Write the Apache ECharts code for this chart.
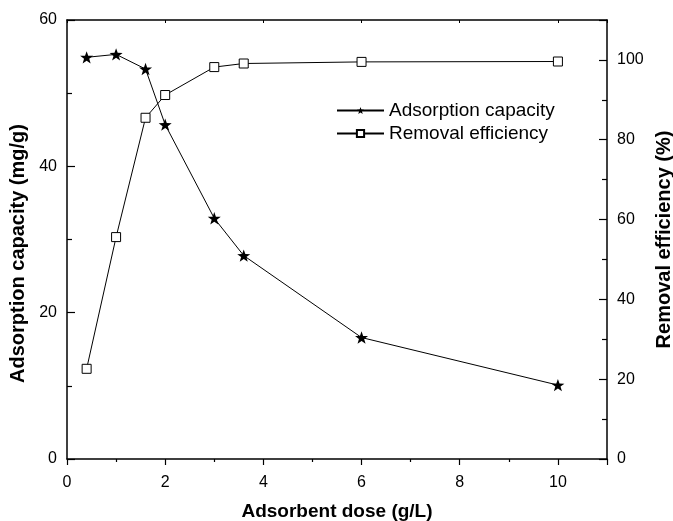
<!DOCTYPE html>
<html>
<head>
<meta charset="utf-8">
<script src="https://cdn.jsdelivr.net/npm/echarts@6/dist/echarts.min.js"></script>
<style>
  html, body { margin: 0; padding: 0; background: #fff; }
  #chart { width: 673px; height: 521px; }
</style>
</head>
<body>
<div id="chart"></div>
<script>
// adsorbent dose (g/L)
var doses = [0.4, 1, 1.6, 2, 3, 3.6, 6, 10];
// adsorption capacity (mg/g), left axis
var capacity = [54.9, 55.3, 53.3, 45.7, 32.9, 27.8, 16.6, 10.1];
// removal efficiency (%), right axis
var efficiency = [22.6, 55.6, 85.5, 91.2, 98.2, 99.1, 99.5, 99.6];

var starPath = 'path://M0,-10L2.35,-3.24L9.51,-3.09L3.8,1.24L5.88,8.09L0,4L-5.88,8.09L-3.8,1.24L-9.51,-3.09L-2.35,-3.24Z';
var font = 'Liberation Sans, Arial, sans-serif';

function pairs(xs, ys) {
    return xs.map(function (x, i) { return [x, ys[i]]; });
}

var chart = echarts.init(document.getElementById('chart'));
chart.setOption({
    animation: false,
    textStyle: { fontFamily: font, color: '#000' },
    grid: { left: 67, right: 66, top: 20, bottom: 62, containLabel: false, outerBoundsMode: 'none' },
    legend: {
        orient: 'vertical',
        left: 331,
        top: 96,
        itemWidth: 47,
        itemHeight: 9,
        itemGap: 4,
        textStyle: { fontSize: 19, color: '#000', fontFamily: font },
        data: ['Adsorption capacity', 'Removal efficiency']
    },
    xAxis: [{
        type: 'value',
        min: 0, max: 11, interval: 2,
        name: 'Adsorbent dose (g/L)',
        nameLocation: 'middle',
        nameGap: 43,
        nameTextStyle: { fontSize: 19, fontWeight: 'bold', color: '#000' },
        axisLine: { onZero: false, lineStyle: { color: '#000', width: 1.5 } },
        axisTick: { inside: false, length: 6, lineStyle: { color: '#000', width: 1.2 } },
        minorTick: { show: true, splitNumber: 2, length: 3, lineStyle: { color: '#000', width: 1.2 } },
        axisLabel: { fontSize: 16, color: '#000', margin: 16,
            formatter: function (v) { return v > 10 ? '' : v; } },
        splitLine: { show: false }
    }, {
        type: 'value',
        position: 'top',
        min: 0, max: 11, interval: 2,
        axisLine: { onZero: false, lineStyle: { color: '#000', width: 1.5 } },
        axisTick: { inside: true, length: 3, lineStyle: { color: '#000', width: 1 } },
        minorTick: { show: false },
        axisLabel: { show: false },
        splitLine: { show: false }
    }],
    yAxis: [{
        type: 'value',
        min: 0, max: 60, interval: 20,
        name: 'Adsorption capacity (mg/g)',
        nameLocation: 'middle',
        nameGap: 38,
        nameTextStyle: { fontSize: 20, fontWeight: 'bold', color: '#000', padding: [0, 28, 0, 0] },
        axisLine: { show: true, onZero: false, lineStyle: { color: '#000', width: 1.5 } },
        axisTick: { show: true, inside: true, length: 8, lineStyle: { color: '#000', width: 1.2 } },
        minorTick: { show: true, splitNumber: 2, length: 5, lineStyle: { color: '#000', width: 1.2 } },
        axisLabel: { fontSize: 16, color: '#000', margin: 10 },
        splitLine: { show: false }
    }, {
        type: 'value',
        position: 'right',
        min: 0, max: 110, interval: 20,
        name: 'Removal efficiency (%)',
        nameLocation: 'middle',
        nameGap: 47,
        nameTextStyle: { fontSize: 20, fontWeight: 'bold', color: '#000' },
        axisLine: { show: true, onZero: false, lineStyle: { color: '#000', width: 1.5 } },
        axisTick: { show: true, inside: true, length: 8, lineStyle: { color: '#000', width: 1.2 } },
        minorTick: { show: true, splitNumber: 2, length: 5, lineStyle: { color: '#000', width: 1.2 } },
        axisLabel: { fontSize: 16, color: '#000', margin: 10, showMaxLabel: false,
            formatter: function (v) { return v > 100 ? '' : v; } },
        splitLine: { show: false }
    }],
    series: [{
        name: 'Adsorption capacity',
        type: 'line',
        yAxisIndex: 0,
        data: pairs(doses, capacity),
        symbol: starPath,
        symbolKeepAspect: true,
        symbolSize: 13,
        itemStyle: { color: '#000', borderWidth: 0 },
        lineStyle: { color: '#000', width: 1 }
    }, {
        name: 'Removal efficiency',
        type: 'line',
        yAxisIndex: 1,
        data: pairs(doses, efficiency),
        symbol: 'rect',
        symbolSize: 9,
        itemStyle: { color: '#fff', borderColor: '#000', borderWidth: 1 },
        lineStyle: { color: '#000', width: 1 }
    }]
});
</script>
</body>
</html>
